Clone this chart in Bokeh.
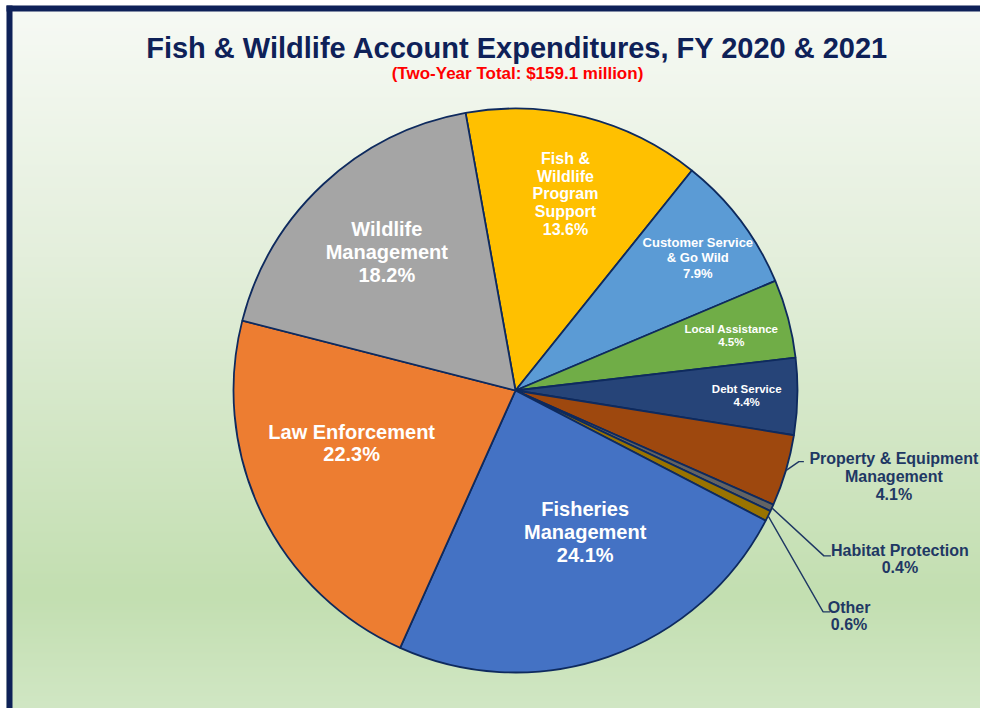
import math
import numpy as np
from bokeh.plotting import figure
from bokeh.models import Range1d
from bokeh.embed import file_html
from bokeh.resources import INLINE
from bokeh.core.properties import value

# ---------------- data ----------------
title_text = "Fish & Wildlife Account Expenditures, FY 2020 & 2021"
subtitle_text = "(Two-Year Total: $159.1 million)"
categories = ["Fish & Wildlife Program Support", "Customer Service & Go Wild",
              "Local Assistance", "Debt Service", "Property & Equipment Management",
              "Habitat Protection", "Other", "Fisheries Management",
              "Law Enforcement", "Wildlife Management"]
shares = [13.6, 7.9, 4.5, 4.4, 4.1, 0.4, 0.6, 24.1, 22.3, 18.2]
label_names = ["Fish &\nWildlife\nProgram\nSupport", "Customer Service\n& Go Wild",
               "Local Assistance", "Debt Service", "Property & Equipment\nManagement",
               "Habitat Protection", "Other", "Fisheries\nManagement",
               "Law Enforcement", "Wildlife\nManagement"]
colors = ["#FFC000", "#5B9BD5", "#70AD47", "#264478", "#9E480E",
          "#636363", "#997300", "#4472C4", "#ED7D31", "#A5A5A5"]

# ---------------- styles ----------------
W, H = 980, 708
NAVY = "#1F3864"
OUTLINE = "#0E2A5E"
FRAME = "#0E2158"
FONT = "Liberation Sans"
LH = 1.04

def X(sx):
    return sx

def Y(sy):
    return H - sy

cx, cy, R = X(515), Y(390), 282
start_top = -10.2  # degrees clockwise from 12 o'clock

# inside labels: index -> (radial fraction, angle nudge deg clockwise, font px)
inside = {0: (0.72, 0.0, 16), 1: (0.80, 1.0, 13), 2: (0.79, 0.5, 11.5),
          3: (0.82, 0.0, 11.5), 7: (0.56, -7.0, 20), 8: (0.61, 8.0, 20),
          9: (0.67, 0.0, 20)}
# outside labels: index -> (elbow dx, elbow dy, tail length, text dx, text dy, font px)
outside = {4: (13, -9, 5, 95, 15, 16), 5: (52, 48, 7, 76, 3, 16),
           6: (55, 96, 7, 26, 4, 16)}

p = figure(width=W, height=H, x_range=Range1d(0, W), y_range=Range1d(0, H),
           x_axis_type=None, y_axis_type=None, toolbar_location=None,
           output_backend="svg", min_border=0, outline_line_color=None)
p.grid.visible = False
p.background_fill_color = "white"
p.border_fill_color = "white"

# gradient background (screen y from 5 to 724)
stops = [0.0, 0.35, 0.82, 1.0]
stop_cols = [(247, 250, 245), (228, 239, 220), (195, 223, 177), (211, 232, 199)]
top_sy, bot_sy = 5, 724
img = np.empty((H - top_sy, 2), dtype=np.uint32)
view = img.view(dtype=np.uint8).reshape((H - top_sy, 2, 4))
for row in range(H - top_sy):
    sy = (H - row - 0.5)
    t = (sy - top_sy) / (bot_sy - top_sy)
    for c in range(3):
        view[row, :, c] = int(np.interp(t, stops, [s[c] for s in stop_cols]))
    view[row, :, 3] = 255
p.image_rgba(image=[img], x=6, y=0, dw=W - 6, dh=H - top_sy)

# frame (top and left)
p.quad(left=X(6), right=X(12), bottom=0, top=Y(5), fill_color=FRAME, line_color=None)
p.quad(left=X(6), right=W, bottom=Y(11), top=Y(5), fill_color=FRAME, line_color=None)

# pie
total = sum(shares)
cum = np.concatenate([[0], np.cumsum(shares)]) / total
a0 = start_top + cum[:-1] * 360
a1 = start_top + cum[1:] * 360
starts = [math.radians(90 - a) for a in a1]
ends = [math.radians(90 - a) for a in a0]
p.wedge(x=cx, y=cy, radius=R, start_angle=starts, end_angle=ends,
        fill_color=colors, line_color=OUTLINE, line_width=1.8)

pct = [f"{v:.1f}%" for v in shares]

for i, (rf, nud, fs) in inside.items():
    mid = (a0[i] + a1[i]) / 2 + nud
    m = math.radians(90 - mid)
    tx = cx + rf * R * math.cos(m)
    ty = cy + rf * R * math.sin(m)
    p.text(x=[tx], y=[ty], text=[label_names[i] + "\n" + pct[i]],
           text_color="white", text_font=value(FONT), text_font_style="bold",
           text_font_size=f"{fs}px", text_align="center", text_baseline="middle",
           text_line_height=LH)

for i, (ex, ey, tail, tdx, tdy, fs) in outside.items():
    mid = (a0[i] + a1[i]) / 2
    m = math.radians(90 - mid)
    sx = cx + R * math.cos(m)
    sy = cy + R * math.sin(m)
    bx, by = sx + ex, sy - ey
    p.line(x=[sx, bx, bx + tail], y=[sy, by, by], line_color=NAVY, line_width=1.4)
    p.text(x=[bx + tdx], y=[by - tdy], text=[label_names[i] + "\n" + pct[i]],
           text_color=NAVY, text_font=value(FONT), text_font_style="bold",
           text_font_size=f"{fs}px", text_align="center", text_baseline="middle",
           text_line_height=LH)

# titles
p.text(x=[X(517)], y=[Y(47)], text=[title_text], text_color=FRAME,
       text_font=value(FONT), text_font_style="bold", text_font_size="29px",
       text_align="center", text_baseline="middle")
p.text(x=[X(517)], y=[Y(73)], text=[subtitle_text], text_color="#FF0000",
       text_font=value(FONT), text_font_style="bold", text_font_size="17px",
       text_align="center", text_baseline="middle")

open("out.html", "w").write(file_html(p, INLINE))
